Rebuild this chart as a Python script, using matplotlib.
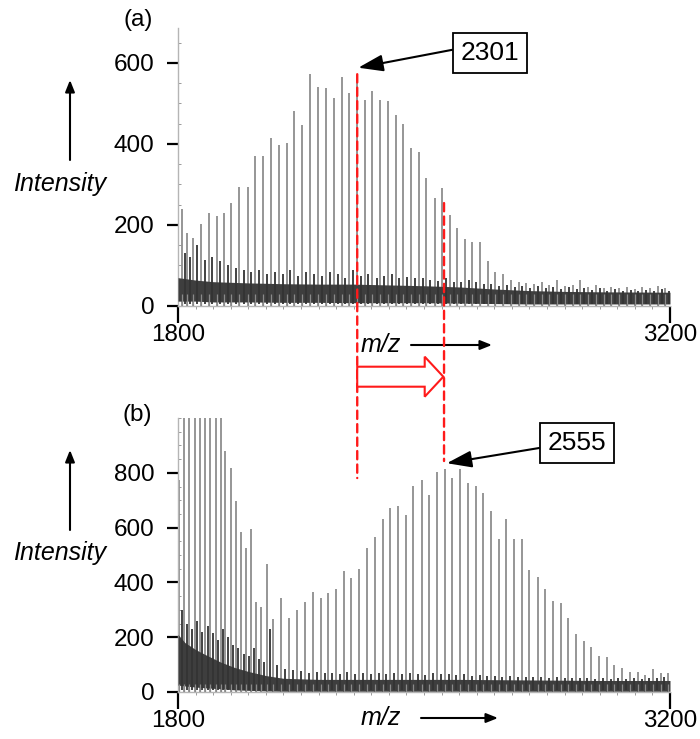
import matplotlib
matplotlib.use('Agg')
import matplotlib.pyplot as plt
from matplotlib.patches import ConnectionPatch, Polygon
from matplotlib.ticker import MultipleLocator
from matplotlib import transforms

plt.rcParams['font.family'] = ['Liberation Sans', 'DejaVu Sans']

# ---- panel (a): main peaks
mz_a = [1812, 1827, 1842, 1865, 1887, 1910, 1931, 1952, 1975, 1999, 2020, 2042,
        2065, 2087, 2109, 2131, 2153, 2176, 2198, 2220, 2243, 2266, 2287, 2310,
        2331, 2353, 2376, 2398, 2420, 2441, 2463, 2485, 2507, 2530, 2551, 2573,
        2594, 2616, 2638, 2659, 2681, 2703, 2725, 2747, 2769, 2791, 2813, 2835,
        2857, 2879, 2901, 2923, 2945, 2967, 2989, 3011, 3033, 3055, 3077, 3099,
        3121, 3143, 3165, 3187]
int_a = [239, 179, 167, 202, 230, 222, 229, 254, 293, 293, 369, 369,
         415, 398, 403, 481, 446, 573, 541, 537, 514, 565, 525, 570,
         509, 531, 509, 506, 472, 449, 389, 379, 317, 267, 291, 225,
         192, 165, 159, 159, 110, 85, 78, 64, 60, 57, 55, 60,
         52, 64, 50, 53, 64, 48, 52, 45, 48, 44, 47, 42,
         46, 44, 50, 45]
# satellite bumps of the noisy baseline
sat_mz_a = [1819, 1834, 1853, 1876, 1898, 1920, 1942, 1964, 1987, 2009, 2031, 2053,
            2076, 2098, 2120, 2142, 2165, 2187, 2209, 2232, 2254, 2276, 2298, 2320,
            2342, 2365, 2387, 2409, 2430, 2452, 2474, 2496, 2518, 2540, 2562, 2584,
            2605, 2627, 2648, 2670, 2692, 2714, 2736, 2758, 2780, 2802, 2824, 2846,
            2868, 2890, 2912, 2934, 2956, 2978, 3000, 3022, 3044, 3066, 3088, 3110,
            3132, 3154, 3176, 3196]
sat_int_a = [130, 120, 150, 114, 120, 110, 100, 95, 90, 85, 90, 80,
             85, 80, 90, 75, 85, 80, 75, 85, 80, 70, 90, 75,
             80, 70, 75, 78, 70, 72, 68, 70, 65, 62, 70, 60,
             58, 65, 58, 55, 55, 50, 52, 48, 50, 45, 50, 44,
             48, 42, 46, 42, 45, 40, 44, 38, 42, 38, 40, 38,
             40, 38, 42, 38]
band_mz_a = [1800, 1850, 1900, 2000, 2100, 2200, 2300, 2400, 2500, 2600, 2700,
             2800, 2900, 3000, 3200]
band_lo_a = [12, 12, 10, 10, 9, 9, 8, 8, 8, 7, 6, 5, 5, 5, 5]
band_hi_a = [70, 64, 60, 57, 55, 54, 54, 52, 50, 47, 42, 38, 36, 35, 34]

# ---- panel (b): main peaks
mz_b = [1804, 1818, 1832, 1847, 1862, 1876, 1891, 1907, 1922, 1935, 1950, 1965,
        1979, 1994, 2008, 2023, 2037, 2052, 2071, 2094, 2116, 2139, 2161, 2184,
        2206, 2227, 2250, 2271, 2293, 2316, 2338, 2360, 2382, 2404, 2426, 2449,
        2470, 2493, 2515, 2537, 2559, 2581, 2603, 2625, 2647, 2669, 2690, 2712,
        2734, 2756, 2778, 2800, 2823, 2845, 2867, 2889, 2911, 2932, 2954, 2976,
        2998, 3020, 3042, 3064, 3086, 3108, 3129, 3152, 3173, 3194]
int_b = [774, 1000, 1000, 1000, 1000, 1000, 1000, 1000, 1000, 881, 819, 697,
         583, 524, 594, 329, 311, 467, 265, 342, 269, 299, 327, 364,
         344, 360, 376, 442, 415, 448, 524, 565, 630, 670, 679, 646,
         752, 774, 719, 804, 814, 780, 814, 762, 752, 725, 662, 557,
         631, 557, 560, 445, 418, 375, 332, 326, 271, 212, 185, 163,
         131, 127, 97, 89, 72, 72, 63, 85, 70, 70]
sat_mz_b = [1811, 1825, 1840, 1855, 1869, 1884, 1899, 1914, 1929, 1943, 1957, 1972,
            1987, 2001, 2015, 2030, 2045, 2062, 2082, 2105, 2128, 2150, 2172, 2195,
            2217, 2239, 2260, 2282, 2304, 2327, 2349, 2371, 2393, 2415, 2437, 2460,
            2482, 2504, 2526, 2548, 2570, 2592, 2614, 2636, 2658, 2680, 2701, 2723,
            2745, 2767, 2789, 2811, 2834, 2856, 2878, 2900, 2922, 2943, 2965, 2987,
            3009, 3031, 3053, 3075, 3097, 3119, 3140, 3162, 3184]
sat_int_b = [300, 250, 230, 260, 220, 240, 215, 190, 230, 200, 170, 160,
             140, 130, 160, 120, 110, 230, 100, 85, 80, 75, 70, 72,
             68, 70, 65, 72, 66, 70, 64, 68, 66, 70, 64, 68,
             66, 62, 68, 64, 66, 62, 64, 60, 62, 58, 60, 56,
             58, 55, 56, 54, 55, 52, 54, 52, 50, 52, 50, 48,
             50, 48, 50, 48, 50, 48, 52, 50, 55]
band_mz_b = [1800, 1820, 1850, 1880, 1920, 1960, 2000, 2050, 2100, 2200, 2400,
             2600, 2800, 3000, 3200]
band_hi_b = [210, 180, 155, 135, 110, 90, 75, 60, 50, 46, 46, 46, 44, 42, 42]
band_lo_b = [25, 22, 18, 15, 12, 8, 6, 4, 3, 3, 3, 3, 3, 3, 3]

W, H = 700, 739
fig = plt.figure(figsize=(7, 7.39), dpi=100)

def fx(px):
    return px / W

def fy(py):
    return 1 - py / H

ax_a = fig.add_axes([fx(178), fy(306), fx(670) - fx(178), fy(28) - fy(306)])
ax_b = fig.add_axes([fx(178), fy(692), fx(670) - fx(178), fy(418) - fy(692)])


def spectrum(ax, mz, ints, smz, sints, bmz, blo, bhi, ymax, yticks):
    ax.vlines(mz, 0, ints, colors='#8e8e8e', lw=1.3, zorder=2)
    ax.fill_between(bmz, blo, bhi, color='#3e3e3e', lw=0, zorder=3)
    ax.vlines(smz, 6, sints, colors='#333333', lw=1.3, zorder=3)
    ax.vlines(mz, 0, 30, colors='#8a8a8a', lw=0.9, zorder=4)
    ax.set_xlim(1800, 3200)
    ax.set_ylim(0, ymax)
    for s in ['top', 'right']:
        ax.spines[s].set_visible(False)
    for s in ['left', 'bottom']:
        ax.spines[s].set_color('#b5b5b5')
        ax.spines[s].set_linewidth(1.0)
    ax.set_xticks([1800, 3200])
    ax.set_yticks(yticks)
    ax.xaxis.set_minor_locator(MultipleLocator(50))
    ax.yaxis.set_minor_locator(MultipleLocator(50))
    ax.tick_params(axis='x', which='major', direction='out', length=12,
                   width=1.6, color='black', labelsize=17.5, pad=1)
    ax.tick_params(axis='y', which='major', direction='out', length=8,
                   width=1.6, color='black', labelsize=17.5, pad=9)
    ax.tick_params(axis='x', which='minor', direction='out', length=2.5,
                   width=0.7, color='#9a9a9a')
    ax.tick_params(axis='y', which='minor', direction='in', length=2.5,
                   width=0.7, color='#9a9a9a')


spectrum(ax_a, mz_a, int_a, sat_mz_a, sat_int_a, band_mz_a, band_lo_a,
         band_hi_a, 686, [0, 200, 400, 600])
spectrum(ax_b, mz_b, int_b, sat_mz_b, sat_int_b, band_mz_b, band_lo_b,
         band_hi_b, 1000, [0, 200, 400, 600, 800])

# panel labels, axis captions
fig.text(fx(138), fy(20), '(a)', fontsize=17.5, ha='center', va='center')
fig.text(fx(137), fy(415), '(b)', fontsize=17.5, ha='center', va='center')

arrow_k = dict(arrowstyle='-|>,head_length=0.7,head_width=0.28', lw=1.5,
               color='black', shrinkA=0, shrinkB=0)
for yt, yh, yl in [(160, 80, 184), (530, 450, 553)]:
    fig.text(fx(60), fy(yl), 'Intensity', fontsize=18, style='italic',
             ha='center', va='center')
    ax_a.annotate('', xy=(fx(70), fy(yh)), xytext=(fx(70), fy(yt)),
                  xycoords='figure fraction', textcoords='figure fraction',
                  arrowprops=arrow_k, annotation_clip=False)

for ym, x0, x1 in [(345, 411, 492), (718, 421, 498)]:
    fig.text(fx(381), fy(ym), 'm/z', fontsize=18, style='italic',
             ha='center', va='center')
    ax_a.annotate('', xy=(fx(x1), fy(ym)), xytext=(fx(x0), fy(ym)),
                  xycoords='figure fraction', textcoords='figure fraction',
                  arrowprops=arrow_k, annotation_clip=False)

# boxed peak labels
box = dict(boxstyle='square,pad=0.3', fc='white', ec='black', lw=1.3)
ax_a.annotate('2301', xy=(2313, 588), xycoords='data',
              xytext=(fx(490), fy(53)), textcoords='figure fraction',
              fontsize=19, ha='center', va='center', bbox=box,
              arrowprops=dict(arrowstyle='-|>,head_length=0.8,head_width=0.27',
                              lw=1.5, color='black', shrinkA=0, shrinkB=0,
                              relpos=(0, 0.7)),
              annotation_clip=False)
ax_b.annotate('2555', xy=(2565, 835), xycoords='data',
              xytext=(fx(577), fy(443)), textcoords='figure fraction',
              fontsize=19, ha='center', va='center', bbox=box,
              arrowprops=dict(arrowstyle='-|>,head_length=0.8,head_width=0.27',
                              lw=1.5, color='black', shrinkA=0, shrinkB=0,
                              relpos=(0, 0.35)),
              annotation_clip=False)

# red dashed guide lines across both panels
for x, ya, yb in [(2310, 572, 781), (2557, 254, 843)]:
    con = ConnectionPatch(xyA=(x, ya), coordsA=ax_a.transData,
                          xyB=(x, yb), coordsB=ax_b.transData,
                          color='#ff1a1a', lw=1.7, ls=(0, (3.5, 2.2)))
    fig.add_artist(con)

# hollow red shift arrow
blend = transforms.blended_transform_factory(ax_a.transData, fig.transFigure)
pts = [(2310, fy(366.7)), (2502, fy(366.7)), (2502, fy(356.7)),
       (2555, fy(376.7)), (2502, fy(396.7)), (2502, fy(386.7)),
       (2310, fy(386.7))]
fig.add_artist(Polygon(pts, closed=True, transform=blend, fc='white',
                       ec='#ff1a1a', lw=1.5, clip_on=False))

fig.savefig('out.png', dpi=100)
